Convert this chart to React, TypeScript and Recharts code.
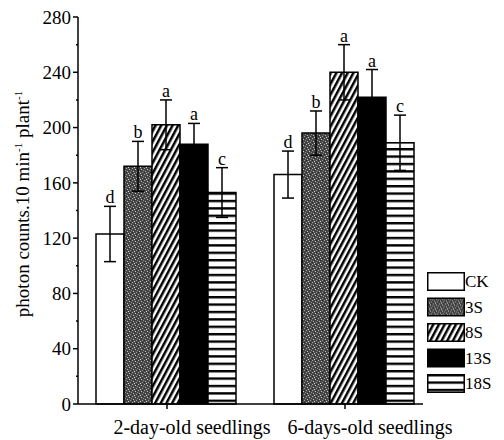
import React from 'react';
import { Bar, BarChart, ErrorBar, LabelList, Legend, XAxis, YAxis } from 'recharts';

const categories = ['2-day-old seedlings', '6-days-old seedlings'];
const seriesNames = ['CK', '3S', '8S', '13S', '18S'];

const ckValues = [123, 166];
const s3Values = [172, 196];
const s8Values = [202, 240];
const s13Values = [188, 222];
const s18Values = [153, 189];

const ckErrors = [20, 17];
const s3Errors = [18, 16];
const s8Errors = [18, 20];
const s13Errors = [15, 20];
const s18Errors = [18, 20];

const ckLetters = ['d', 'd'];
const s3Letters = ['b', 'b'];
const s8Letters = ['a', 'a'];
const s13Letters = ['a', 'a'];
const s18Letters = ['c', 'c'];

const yTicks = [0, 20, 40, 60, 80, 100, 120, 140, 160, 180, 200, 220, 240, 260, 280];

const FONT = '"Liberation Serif", "Times New Roman", serif';

const seriesValues = [ckValues, s3Values, s8Values, s13Values, s18Values];
const seriesErrors = [ckErrors, s3Errors, s8Errors, s13Errors, s18Errors];
const seriesLetters = [ckLetters, s3Letters, s8Letters, s13Letters, s18Letters];
const seriesFills = ['#ffffff', 'url(#stipple)', 'url(#diag)', '#000000', 'url(#horiz)'];

const data = categories.map((name, i) => {
  const row: Record<string, string | number> = { name };
  seriesNames.forEach((s, k) => {
    row[s] = seriesValues[k][i];
    row[`${s}_err`] = seriesErrors[k][i];
  });
  return row;
});

const YTick = (props: any) => {
  const { x, y, payload } = props;
  const axisX = x + 7;
  const major = payload.value % 40 === 0;
  return (
    <g>
      <line x1={axisX} x2={axisX - (major ? 5 : 2)} y1={y} y2={y} stroke="#000" strokeWidth={1.5} />
      {major && (
        <text x={x} y={y} dy="0.35em" textAnchor="end" fontFamily={FONT} fontSize={19} fill="#000">
          {payload.value}
        </text>
      )}
    </g>
  );
};

const XTick = (props: any) => {
  const { x, y, payload } = props;
  return (
    <text x={x + 25} y={y} dy="0.71em" textAnchor="middle" fontFamily={FONT} fontSize={20} fill="#000">
      {payload.value}
    </text>
  );
};

const YLabel = () => (
  <text x={29} y={204} transform="rotate(-90, 29, 204)" textAnchor="middle" fontFamily={FONT} fontSize={19} fill="#000">
    <tspan>photon counts.10 min</tspan>
    <tspan dy={-7} fontSize={11}>-1</tspan>
    <tspan dy={7}> plant</tspan>
    <tspan dy={-7} fontSize={11}>-1</tspan>
  </text>
);

const makeLetter = (k: number) => (props: any) => {
  const { x, y, width, height, value, index } = props;
  if (!value) return null;
  const perUnit = height / value;
  const errTop = y - seriesErrors[k][index] * perUnit;
  return (
    <text x={x + width / 2} y={errTop - 3} textAnchor="middle" fontFamily={FONT} fontSize={18} fill="#000">
      {seriesLetters[k][index]}
    </text>
  );
};

// legend drawn as its own little svg so boxes and labels line up
const LegendBox = () => (
  <svg width={77} height={130} style={{ display: 'block' }}>
    {seriesNames.map((s, k) => (
      <g key={s} transform={`translate(0, ${k * 25.5})`}>
        <rect x={0.75} y={0.75} width={36.5} height={17.5} fill={seriesFills[k]} stroke="#000" strokeWidth={1.5} />
        <text x={38} y={9.5} dy="0.35em" fontFamily={FONT} fontSize={17} fill="#000">
          {s}
        </text>
      </g>
    ))}
  </svg>
);

export default function App() {
  return (
    <div style={{ position: 'absolute', left: 0, top: 0, width: 504, height: 440, background: '#fff' }}>
      <BarChart
        width={504}
        height={440}
        data={data}
        margin={{ top: 17, right: 70, bottom: 0, left: 0 }}
        barCategoryGap={18}
        barGap={0}
      >
        <defs>
          <pattern id="stipple" width={6} height={6} patternUnits="userSpaceOnUse">
            <rect width={6} height={6} fill="#484848" />
            <rect x={0} y={0} width={1} height={1} fill="#a8a8a8" />
            <rect x={3} y={1} width={1} height={1} fill="#c8c8c8" />
            <rect x={5} y={2} width={1} height={1} fill="#888" />
            <rect x={1} y={3} width={1} height={1} fill="#b8b8b8" />
            <rect x={4} y={4} width={1} height={1} fill="#989898" />
            <rect x={2} y={5} width={1} height={1} fill="#d8d8d8" />
            <rect x={0} y={4} width={1} height={1} fill="#282828" />
            <rect x={4} y={0} width={1} height={1} fill="#282828" />
            <rect x={2} y={2} width={1} height={1} fill="#303030" />
          </pattern>
          <pattern id="diag" width={5} height={10} patternUnits="userSpaceOnUse" patternTransform="rotate(28)">
            <rect width={5} height={10} fill="#fff" />
            <rect width={2.5} height={10} fill="#000" />
          </pattern>
          <pattern id="horiz" width={10} height={7.4} patternUnits="userSpaceOnUse">
            <rect width={10} height={7.4} fill="#fff" />
            <rect width={10} height={2.4} fill="#000" />
          </pattern>
        </defs>
        <XAxis
          dataKey="name"
          height={36}
          tick={<XTick />}
          tickSize={5}
          tickMargin={11}
          axisLine={{ stroke: '#000', strokeWidth: 1.5, strokeDasharray: '345 200' }}
          tickLine={{ stroke: '#000', strokeWidth: 1.5 }}
        />
        <YAxis
          width={78}
          domain={[0, 280]}
          ticks={yTicks}
          interval={0}
          tick={<YTick />}
          tickSize={4}
          tickMargin={3}
          tickLine={false}
          axisLine={{ stroke: '#000', strokeWidth: 1.5 }}
          label={<YLabel />}
        />
        <Legend
          layout="vertical"
          align="center"
          verticalAlign="middle"
          wrapperStyle={{ left: 427, top: 272, width: 77 }}
          content={<LegendBox />}
        />
        {seriesNames.map((s, k) => (
          <Bar
            key={s}
            dataKey={s}
            fill={seriesFills[k]}
            stroke="#000"
            strokeWidth={1.5}
            isAnimationActive={false}
          >
            <ErrorBar dataKey={`${s}_err`} width={6} stroke="#000" strokeWidth={1.5} />
            <LabelList dataKey={s} content={makeLetter(k)} />
          </Bar>
        ))}
      </BarChart>
    </div>
  );
}
